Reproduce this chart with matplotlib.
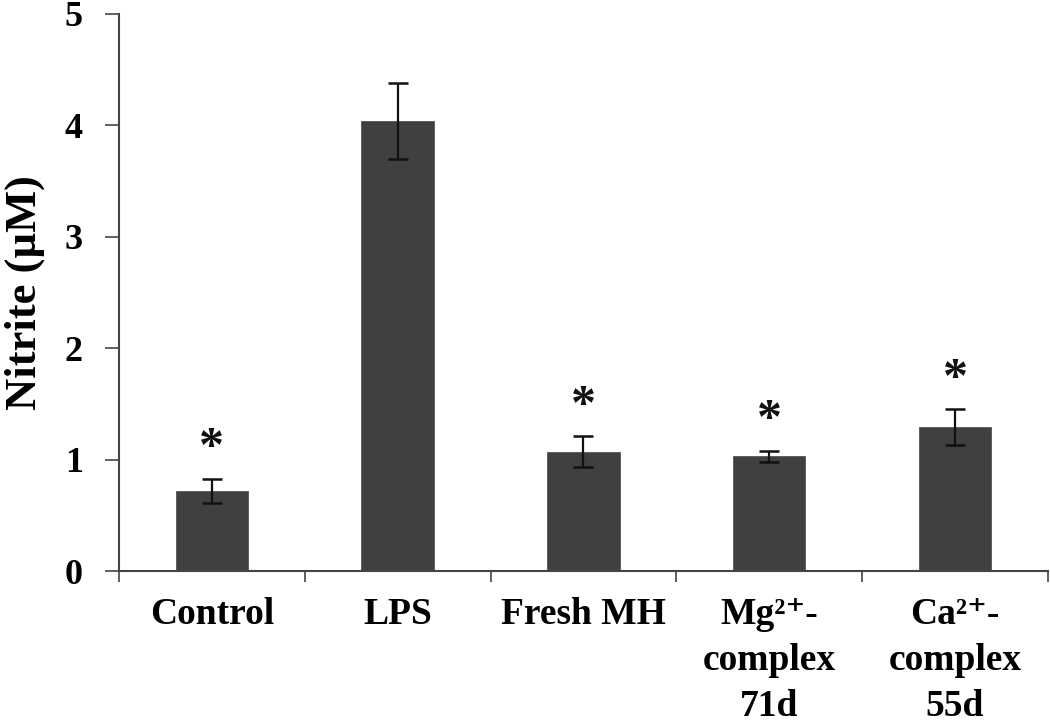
import matplotlib
matplotlib.use("Agg")
import matplotlib.pyplot as plt
import numpy as np

# values
groups = ["Control", "LPS", "Fresh MH", "Mg²⁺-\ncomplex\n71d", "Ca²⁺-\ncomplex\n55d"]
nitrite = [0.72, 4.04, 1.07, 1.03, 1.29]
nitrite_err = [0.11, 0.34, 0.14, 0.05, 0.16]
significant = [True, False, True, True, True]

plt.rcParams['font.family'] = ['Liberation Serif', 'DejaVu Serif']
plt.rcParams['font.weight'] = 'bold'

fig = plt.figure(figsize=(10.5, 7.24), dpi=100)
ax = fig.add_axes([0.1133, 0.2113, 0.8847, 0.7694])

x = np.arange(len(groups))
ax.bar(x, nitrite, width=0.39, color='#404040', edgecolor='#555555', linewidth=0.6, zorder=2)
ax.errorbar(x, nitrite, yerr=nitrite_err, fmt='none', ecolor='#111111',
            elinewidth=1.6, capsize=7, capthick=1.8, zorder=3)

# significance stars
for xi, v, e, s in zip(x, nitrite, nitrite_err, significant):
    if s:
        ax.text(xi, v + e + 0.06, '*', ha='center', va='bottom', fontsize=36,
                fontweight='bold', color='#111111')

ax.set_xlim(-0.5, len(groups) - 0.5)
ax.set_ylim(0, 5)
ax.set_yticks(range(0, 6))
ax.set_xticks(x)
ax.set_xticklabels(groups, fontsize=27, fontweight='bold', linespacing=1.4, va='top')
ax.set_xticks(np.arange(-0.5, len(groups)), minor=True)
ax.tick_params(axis='x', which='major', length=0, pad=19)
ax.tick_params(axis='x', which='minor', length=8, width=1.2, color='#444444', direction='out')
ax.tick_params(axis='y', length=10, width=1.2, color='#444444', pad=16, labelsize=26)

ax.set_ylabel('Nitrite (µM)', fontsize=32, fontweight='bold', labelpad=14)

for side in ['top', 'right']:
    ax.spines[side].set_visible(False)
for side in ['left', 'bottom']:
    ax.spines[side].set_color('#444444')
    ax.spines[side].set_linewidth(1.5)

fig.savefig('out.png', dpi=100)
